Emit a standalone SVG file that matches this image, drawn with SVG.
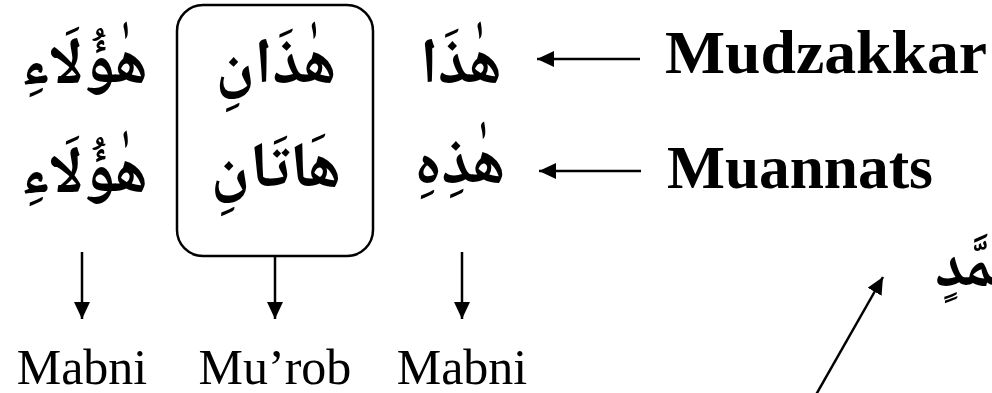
<svg xmlns="http://www.w3.org/2000/svg" width="992" height="393" viewBox="0 0 992 393">
  <style>
    .ar { font-family: "Noto Naskh Arabic", "Amiri", "Scheherazade New", "DejaVu Sans", sans-serif; font-weight: bold; font-size: 64px; fill: #000; text-anchor: middle; }
    .lbl { font-family: "Liberation Serif", "Times New Roman", serif; font-size: 50px; fill: #000; text-anchor: middle; }
    .head { font-family: "Liberation Serif", "Times New Roman", serif; font-weight: bold; font-size: 62px; fill: #000; }
    .edge { stroke: #000; stroke-width: 2.5; fill: none; }
  </style>
  <defs>
    <marker id="tip" markerUnits="userSpaceOnUse" markerWidth="20" markerHeight="18" refX="17" refY="8" orient="auto">
      <path d="M0,0 L17,8 L0,16 Z" fill="#000"/>
    </marker>
  </defs>
  <rect width="992" height="393" fill="#fff"/>

  <g id="plural">
    <text class="ar" x="84" y="83">هٰؤُلَاءِ</text>
    <text class="ar" x="84" y="192">هٰؤُلَاءِ</text>
  </g>

  <g id="dual">
    <rect x="177" y="5" width="196" height="251" rx="26" ry="26" fill="none" stroke="#000" stroke-width="2.5"/>
    <text class="ar" x="276" y="83">هٰذَانِ</text>
    <text class="ar" x="276" y="187">هَاتَانِ</text>
  </g>

  <g id="singular">
    <text class="ar" x="461" y="83">هٰذَا</text>
    <text class="ar" x="460" y="183">هٰذِهِ</text>
  </g>

  <g id="mudzakkar">
    <text class="head" x="665" y="73" textLength="322" lengthAdjust="spacingAndGlyphs">Mudzakkar</text>
  </g>
  <g id="muannats">
    <text class="head" x="667" y="188" textLength="266" lengthAdjust="spacingAndGlyphs">Muannats</text>
  </g>

  <g id="mabni-1"><text class="lbl" x="82" y="384">Mabni</text></g>
  <g id="murob"><text class="lbl" x="275" y="384">Mu’rob</text></g>
  <g id="mabni-2"><text class="lbl" x="462" y="384">Mabni</text></g>

  <g id="muhammad">
    <text class="ar" style="text-anchor:start" x="935" y="286">مُحَمَّدٍ</text>
  </g>

  <g id="connectors">
    <line class="edge" x1="640" y1="59" x2="537" y2="59" marker-end="url(#tip)"/>
    <line class="edge" x1="641" y1="171" x2="539" y2="171" marker-end="url(#tip)"/>
    <line class="edge" x1="82" y1="252" x2="82" y2="319" marker-end="url(#tip)"/>
    <line class="edge" x1="275" y1="256" x2="275" y2="319" marker-end="url(#tip)"/>
    <line class="edge" x1="462" y1="252" x2="462" y2="319" marker-end="url(#tip)"/>
    <line class="edge" x1="813" y1="400" x2="883" y2="277" marker-end="url(#tip)"/>
  </g>
</svg>
